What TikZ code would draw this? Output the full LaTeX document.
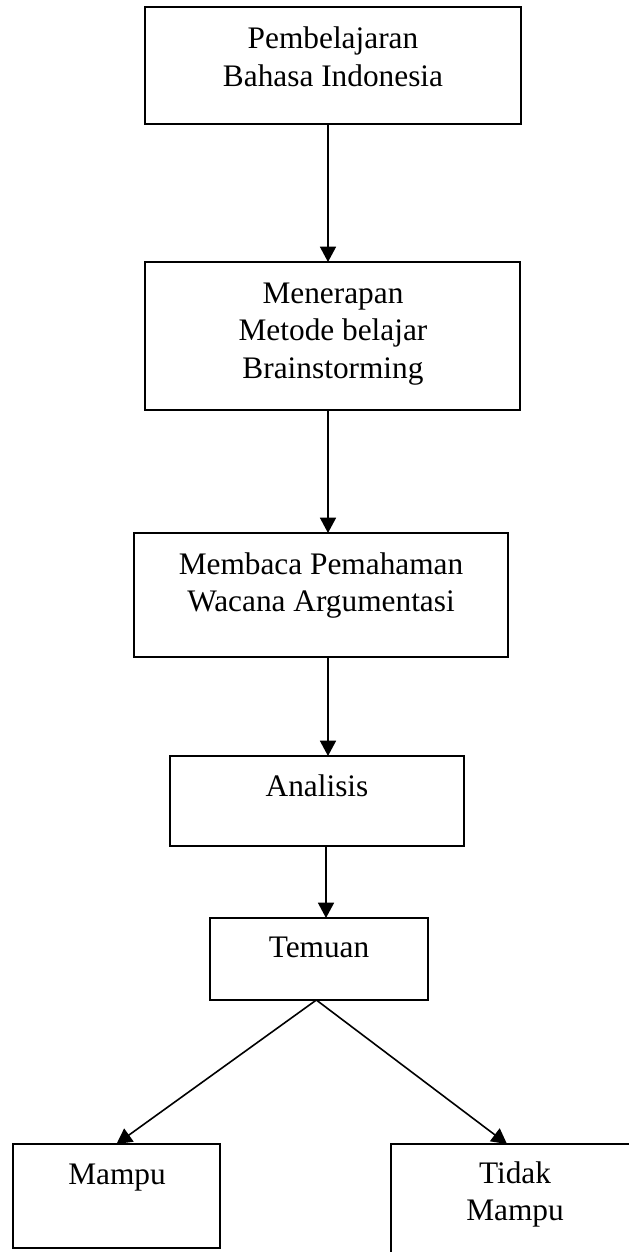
\documentclass[tikz,border=0pt]{standalone}
\usepackage{fontspec}
\setmainfont{Liberation Serif}
\usetikzlibrary{arrows.meta}

\begin{document}
\begin{tikzpicture}[x=0.75pt,y=-0.75pt,
     box/.style={draw,rectangle,line width=1.3pt,inner sep=0pt,outer sep=0pt},
     txt/.style={font=\fontsize{23.5}{28}\selectfont,inner sep=0pt,anchor=base},
     arr/.style={line width=1.2pt,-{Triangle[length=11.5pt,width=12pt]}}
     ]
\useasboundingbox (0,0) rectangle (628,1252);

%One pixel of the page
\def \px{0.75pt}
%Distance between two lines of text
\def \lsep{37.5}

%Boxes of the flow, top to bottom
\node[box,minimum width=376*\px,minimum height=117*\px] (b1) at (333,65.5) {};
\node[box,minimum width=375*\px,minimum height=148*\px] (b2) at (332.5,336) {};
\node[box,minimum width=374*\px,minimum height=124*\px] (b3) at (321,595) {};
\node[box,minimum width=294*\px,minimum height=90*\px] (b4) at (317,801) {};
\node[box,minimum width=218*\px,minimum height=82*\px] (b5) at (319,959) {};
\node[box,minimum width=207*\px,minimum height=104*\px] (b6) at (116.5,1196) {};
\node[box,minimum width=248*\px,minimum height=114*\px] (b7) at (515,1201) {};

%Texts inside the boxes
\foreach [count=\i] \t in {Pembelajaran,Bahasa Indonesia}
   \node[txt] (t1\i) at (333,{49+(\i-1)*\lsep}) {\t};
\foreach [count=\i] \t in {Menerapan,Metode belajar,Brainstorming}
   \node[txt] (t2\i) at (333,{303+(\i-1)*\lsep}) {\t};
\foreach [count=\i] \t in {Membaca Pemahaman,Wacana Argumentasi}
   \node[txt] (t3\i) at (321,{574+(\i-1)*\lsep}) {\t};
\node[txt] (t4) at (317,796) {Analisis};
\node[txt] (t5) at (319,957) {Temuan};
\node[txt] (t6) at (117,1184) {Mampu};
\foreach [count=\i] \t in {Tidak,Mampu}
   \node[txt] (t7\i) at (515,{1183+(\i-1)*\lsep}) {\t};

%Arrows between the boxes
\coordinate (ax) at (328,0);
\coordinate (bx) at (326,0);
\draw[arr] (b1.south -| ax) -- (b2.north -| ax);
\draw[arr] (b2.south -| ax) -- (b3.north -| ax);
\draw[arr] (b3.south -| ax) -- (b4.north -| ax);
\draw[arr] (b4.south -| bx) -- (b5.north -| bx);
\draw[arr] ([xshift=-2pt]b5.south) -- (b6.north);
\draw[arr] ([xshift=-2pt]b5.south) -- ([xshift=-6pt]b7.north);
\end{tikzpicture}
\end{document}
